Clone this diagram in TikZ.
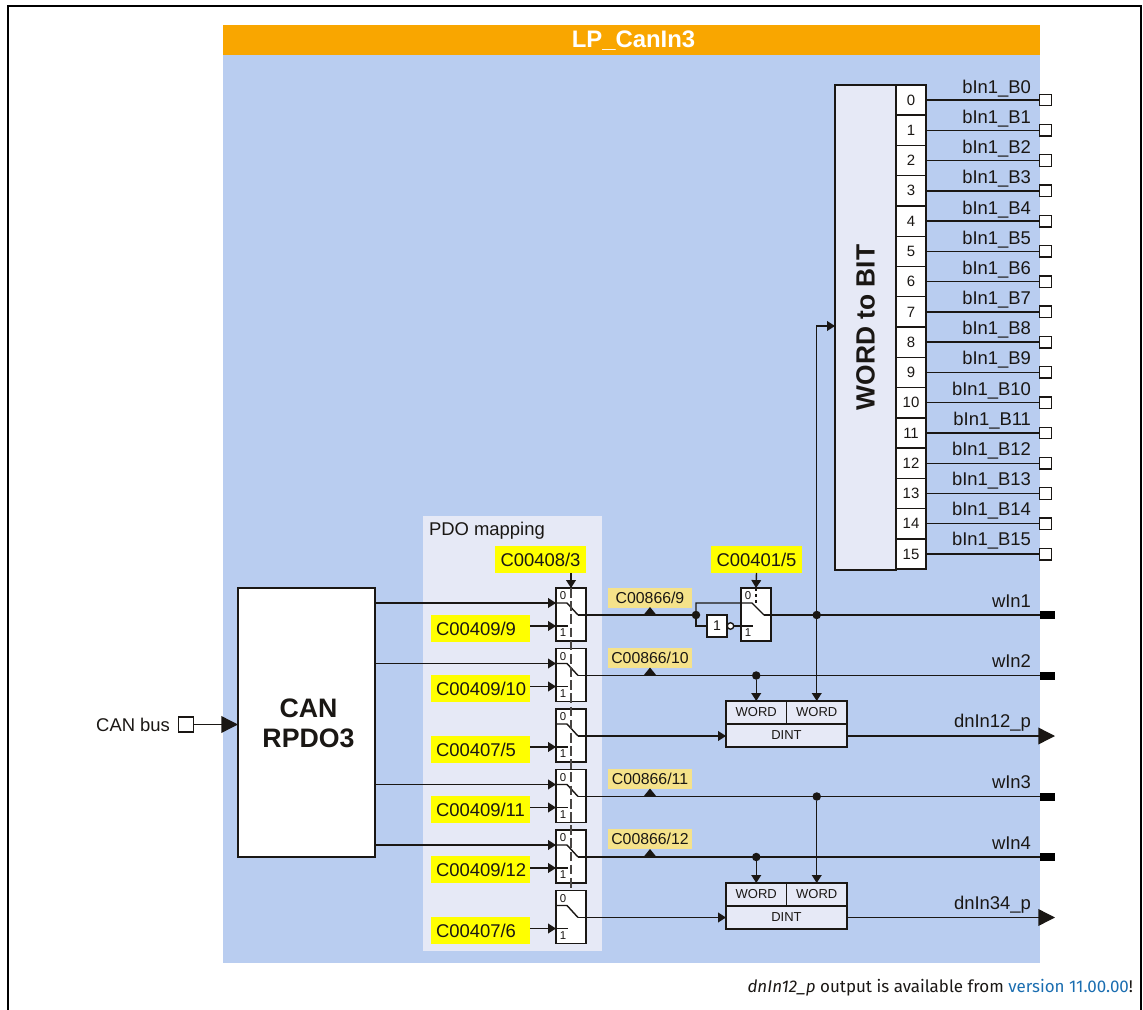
\documentclass[tikz,border=0pt]{standalone}
\usepackage{fontspec}
\setmainfont{Liberation Sans}
\newfontfamily\notefont{Fira Sans}
\usepackage{xcolor}
\usetikzlibrary{arrows.meta,calc}

\definecolor{hdrorange}{HTML}{F9A600}
\definecolor{areablue}{HTML}{B9CDF0}
\definecolor{panelblue}{HTML}{E6E9F6}
\definecolor{codeyellow}{HTML}{FFFF00}
\definecolor{signalbeige}{HTML}{F5E28A}
\definecolor{inkblack}{HTML}{1A1714}
\definecolor{linkblue}{HTML}{1A6DB0}

\begin{document}
\begin{tikzpicture}[
  x=0.02cm, y=-0.02cm,
  every node/.style={inner sep=0pt, outer sep=0pt, text=inkblack},
  txt/.style={font=\fontsize{10.5pt}{12pt}\selectfont},
  pinlabel/.style={txt, anchor=base east},
  box/.style={rectangle, draw=inkblack, line width=0.8pt},
  switchbox/.style={box, fill=white, anchor=north west, minimum width=0.6cm, minimum height=1.06cm},
  digit/.style={font=\fontsize{6.5pt}{7pt}\selectfont},
  codebox/.style={rectangle, fill=codeyellow, minimum width=1.82cm, minimum height=0.54cm, txt},
  codeleft/.style={rectangle, fill=codeyellow, anchor=north west, text width=1.78cm, inner xsep=0.1cm, align=left, minimum height=0.54cm, txt},
  signal/.style={rectangle, fill=signalbeige, minimum width=1.68cm, minimum height=0.4cm, font=\fontsize{9pt}{10pt}\selectfont},
  wordcell/.style={box, fill=panelblue, anchor=north west, minimum width=1.21cm, minimum height=0.46cm, font=\fontsize{7.4pt}{9pt}\selectfont},
  dintcell/.style={box, fill=panelblue, anchor=north west, minimum width=2.42cm, minimum height=0.46cm, font=\fontsize{7.4pt}{9pt}\selectfont},
  bitcell/.style={box, fill=white, minimum width=0.6cm, minimum height=0.6054cm, font=\fontsize{8.5pt}{10pt}\selectfont},
  opensq/.style={box, fill=white, minimum size=0.23cm},
  wordpin/.style={rectangle, fill=black, minimum width=0.3cm, minimum height=0.16cm},
  junction/.style={circle, fill=inkblack, minimum size=0.17cm},
  wire/.style={draw=inkblack, line width=0.8pt},
  bigtip/.style={-{Triangle[length=9.5pt,width=9.5pt]}},
  >={Triangle[length=4.5pt,width=5.5pt]}
]
  \useasboundingbox (0,0) rectangle (1143,1010);
  % Page frame, open at the bottom
  \draw[black, line width=1.2pt] (8,1010) -- (8,6) -- (1141,6) -- (1141,1010);

  % Block area and header
  \fill[areablue] (223,55) rectangle (1040,963);
  \fill[hdrorange] (223,25) rectangle (1040,55);
  \node[anchor=base, text=white, font=\fontsize{13.6pt}{15pt}\selectfont\bfseries] (title) at (633.5,48) {LP\_CanIn3};
  \fill[panelblue] (423,516) rectangle (602,951);
  \node[txt, anchor=base west] (pdolabel) at (429,535) {PDO mapping};

  % CAN input
  \node[box, fill=white, anchor=north west, minimum width=2.74cm, minimum height=5.38cm] (rpdo) at (238,588) {};
  \node[align=center, font=\fontsize{15.2pt}{17.2pt}\selectfont\bfseries] (rpdolabel) at (308.5,723.5) {CAN\\RPDO3};
  \node[opensq, minimum size=0.3cm] (canpin) at (186,724.5) {};
  \node[txt, anchor=base east] (canlabel) at (170,731) {CAN bus};
  \draw[wire, bigtip] (canpin) -- (rpdo.west |- canpin);

  % PDO mapping switches
  \foreach \n/\t in {1/588,2/648.5,3/709,4/769.5,5/830,6/890.5} {
    \node[switchbox] (sw\n) at (556,\t) {};
    \node[digit] (sw\n-0) at (563,\t+8) {0};
    \node[digit] (sw\n-1) at (563,\t+45) {1};
    \coordinate (sw\n in0) at (556,\t+15);
    \coordinate (sw\n in1) at (556,\t+38);
    \coordinate (sw\n stub) at (568,\t+38);
    \coordinate (sw\n arm) at (567,\t+15);
    \coordinate (sw\n out) at (578,\t+27);
    \draw[wire] (sw\n in0) -- (sw\n arm) -- (sw\n out);
    \draw[wire] (sw\n in1) -- (sw\n stub);
  }
  \draw[draw=inkblack!80, line width=0.8pt, dash pattern=on 5.5pt off 2pt] (sw1.north) -- (sw6.north);

  % Yellow codes
  \node[codebox] (sel1) at (540.5,559.5) {C00408/3};
  \node[codebox] (sel2) at (756.5,559.5) {C00401/5};
  \node[codeleft] (cfg1) at (431,615) {C00409/9};
  \node[codeleft] (cfg2) at (431,675) {C00409/10};
  \node[codeleft] (cfg3) at (431,736) {C00407/5};
  \node[codeleft] (cfg4) at (431,796) {C00409/11};
  \node[codeleft] (cfg5) at (431,856) {C00409/12};
  \node[codeleft] (cfg6) at (431,917) {C00407/6};
  \draw[wire, ->] (sel1.south -| sw1.north) -- (sw1.north);
  \foreach \n in {1,...,6}
    \draw[wire, ->] (cfg\n.east |- sw\n in1) -- (sw\n in1);
  \draw[wire, ->] (rpdo.east |- sw1in0) -- (sw1in0);
  \draw[wire, ->] (rpdo.east |- sw2in0) -- (sw2in0);
  \draw[wire, ->] (rpdo.east |- sw4in0) -- (sw4in0);
  \draw[wire, ->] (rpdo.east |- sw5in0) -- (sw5in0);

  % Inverted bypass after the first switch
  \node[switchbox] (mux) at (741,588) {};
  \node[digit] (mux-0) at (748,596) {0};
  \node[digit] (mux-1) at (748,633) {1};
  \node[box, fill=white, minimum width=0.4cm, minimum height=0.44cm, font=\fontsize{8pt}{9pt}\selectfont] (inv) at (717,626) {1};
  \node[circle, draw=inkblack, line width=0.8pt, fill=white, minimum size=0.13cm] (invdot) at (730.5,626) {};
  \node[junction] (j1) at (696,615) {};
  \coordinate (muxin) at (741,603);
  \coordinate (muxarm) at (752,603);
  \coordinate (muxout) at (764,615);
  \coordinate (muxstub) at (753,626);
  \draw[wire] (sw1out) -- (j1);
  \draw[wire] (j1) |- (muxin) -- (muxarm) -- (muxout);
  \draw[wire] (j1) |- (inv.west);
  \draw[wire] (invdot) -- (muxstub);
  \draw[wire, ->] (sel2.south) -- (mux.north);
  \draw[draw=inkblack, line width=0.8pt, dash pattern=on 1.7pt off 1.7pt] (mux.north) -- (muxarm -| mux.north);

  % WORD to BIT block
  \node[box, fill=panelblue, minimum width=1.22cm, minimum height=9.7cm] (wtb) at (865.5,327.5) {};
  \node[rotate=90, font=\fontsize{15pt}{17pt}\selectfont\bfseries] (wtblabel) at (wtb.center) {WORD to BIT};
  \foreach \i in {0,...,15} {
    \pgfmathsetmacro\ypos{100+\i*30.27}
    \pgfmathsetmacro\ytext{93.5+\i*30.15}
    \node[bitcell] (cell\i) at (911,\ypos) {\i};
    \node[opensq] (pin\i) at (1045.5,\ypos) {};
    \node[pinlabel] (bit\i) at (1031,\ytext) {bIn1\_B\i};
    \draw[wire] (cell\i.east) -- (pin\i);
  }

  % DINT blocks
  \node[wordcell] (w1a) at (726,701) {WORD};
  \node[wordcell] (w1b) at (786.5,701) {WORD};
  \node[dintcell] (dint1) at (726,724) {DINT};
  \node[wordcell] (w2a) at (726,883) {WORD};
  \node[wordcell] (w2b) at (786.5,883) {WORD};
  \node[dintcell] (dint2) at (726,906) {DINT};

  % Output pins
  \node[wordpin] (o1) at (1047.5,615) {};
  \node[wordpin] (o2) at (1047.5,675.5) {};
  \node[wordpin] (o3) at (1047.5,796.5) {};
  \node[wordpin] (o4) at (1047.5,857) {};
  \coordinate (o12) at (1055,736);
  \coordinate (o34) at (1055,917.5);
  \node[pinlabel] (lw1) at (1031,607) {wIn1};
  \node[pinlabel] (lw2) at (1031,667.5) {wIn2};
  \node[pinlabel] (lw3) at (1031,788.5) {wIn3};
  \node[pinlabel] (lw4) at (1031,849) {wIn4};
  \node[pinlabel] (ld12) at (1031,727.5) {dnIn12\_p};
  \node[pinlabel] (ld34) at (1031,909) {dnIn34\_p};

  % Output wires
  \draw[wire] (muxout) -- (o1);
  \draw[wire] (sw2out) -- (o2);
  \draw[wire] (sw4out) -- (o3);
  \draw[wire] (sw5out) -- (o4);
  \draw[wire, ->] (sw3out) -- (sw3out -| dint1.west);
  \draw[wire, ->] (sw6out) -- (sw6out -| dint2.west);
  \draw[wire, bigtip] (dint1.east |- o12) -- (o12);
  \draw[wire, bigtip] (dint2.east |- o34) -- (o34);

  % Junctions down to the WORD inputs
  \node[junction] (j2) at (w1b.north |- o1) {};
  \node[junction] (j3) at (w1a.north |- o2) {};
  \node[junction] (j4) at (w2b.north |- o3) {};
  \node[junction] (j5) at (w2a.north |- o4) {};
  \draw[wire, ->] (j2) -- (w1b.north);
  \draw[wire, ->] (j3) -- (w1a.north);
  \draw[wire, ->] (j4) -- (w2b.north);
  \draw[wire, ->] (j5) -- (w2a.north);
  \coordinate (wtbin) at (wtb.west |- 0,326);
  \draw[wire, ->] (j2) |- (wtbin);

  % Signal codes on the lines
  \node[signal] (s1) at (650,598) {C00866/9};
  \node[signal] (s2) at (650,658) {C00866/10};
  \node[signal] (s3) at (650,779) {C00866/11};
  \node[signal] (s4) at (650,839) {C00866/12};
  \foreach \n/\yline in {1/615,2/675.5,4/796.5,5/857}
    \fill[inkblack] (643.5,\yline) -- (650,\yline-8) -- (656.5,\yline) -- cycle;

  % Note below the block
  \node[anchor=base east, font=\notefont\fontsize{9.65pt}{11pt}\selectfont] (note) at (1133,992.5)
    {\textit{dnIn12\_p} output is available from \textcolor{linkblue}{version 11.00.00}!};
\end{tikzpicture}
\end{document}
